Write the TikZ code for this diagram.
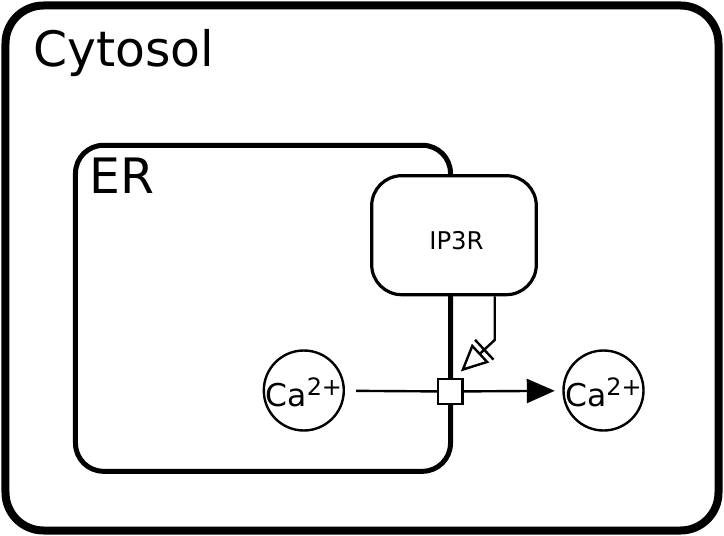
\documentclass[tikz,border=0pt]{standalone}
\usepackage{fontspec}
\setmainfont{DejaVu Sans}
\usetikzlibrary{arrows.meta,calc}
\begin{document}
\begin{tikzpicture}[x=1bp,y=-1bp,
  cytbox/.style={draw, line width=8bp, rounded corners=38bp, minimum width=713bp, minimum height=525bp, inner sep=0pt},
  erbox/.style={draw, line width=5bp, rounded corners=28bp, minimum width=375bp, minimum height=326bp, inner sep=0pt},
  macro/.style={draw, fill=white, line width=3.2bp, rounded corners=30bp, minimum width=164.6bp, minimum height=119bp, inner sep=0pt},
  simple/.style={circle, draw, line width=2.4bp, minimum size=80bp, inner sep=0pt},
  procbox/.style={draw, fill=white, line width=2.4bp, minimum size=24.6bp, inner sep=0pt},
  bigtext/.style={anchor=base west, inner sep=0pt, font=\fontsize{#1}{#1}\selectfont},
  catext/.style={anchor=base, inner sep=0pt, font=\fontsize{31.5}{36}\selectfont},
  flow/.style={line width=2.4bp},
]
\useasboundingbox (0,0) rectangle (724,536);
% compartments
\node[cytbox] (cyt) at (362,268) {};
\node[bigtext=49] (cytlab) at (33,67) {Cytosol};
\node[erbox] (er) at (263,308.3) {};
\node[bigtext=49] (erlab) at (89,194) {ER};
% macromolecule
\node[macro, label={[font=\fontsize{24.5}{28}\selectfont, inner sep=0pt, xshift=2.5bp, yshift=-5bp]center:IP3R}] (ip3r) at (454,235.2) {};
% simple chemicals
\node[simple] (caL) at (303.8,390.5) {};
\node[simple] (caR) at (603.5,390.5) {};
\node[catext] (caLt) at ($(caL)+(0,16.2)$) {Ca\raisebox{11.7bp}{\fontsize{24}{24}\selectfont 2+}};
\node[catext] (caRt) at ($(caR)+(0,16.2)$) {Ca\raisebox{11.7bp}{\fontsize{24}{24}\selectfont 2+}};
% process
\node[procbox] (proc) at (450.3,391.5) {};
% arcs
\draw[flow, shorten <=11bp] (caL) -- (proc);
\draw[flow, -{Triangle[length=28bp,width=24bp]}, shorten >=7.5bp] (proc) -- (caR);
% necessary stimulation
\coordinate (bend) at (494.7,340);
\coordinate (tip) at ($(proc.north east)+(-3,-6.5)$);
\draw[flow, line join=miter, -{Triangle[open,length=27bp,width=25bp]}] (bend |- ip3r.south) -- (bend) -- (tip);
\coordinate (bc) at ($(tip)!32bp!(bend)$);
\draw[flow] ($(bc)!13.5bp!90:(tip)$) -- ($(bc)!13.5bp!-90:(tip)$);
\end{tikzpicture}
\end{document}
